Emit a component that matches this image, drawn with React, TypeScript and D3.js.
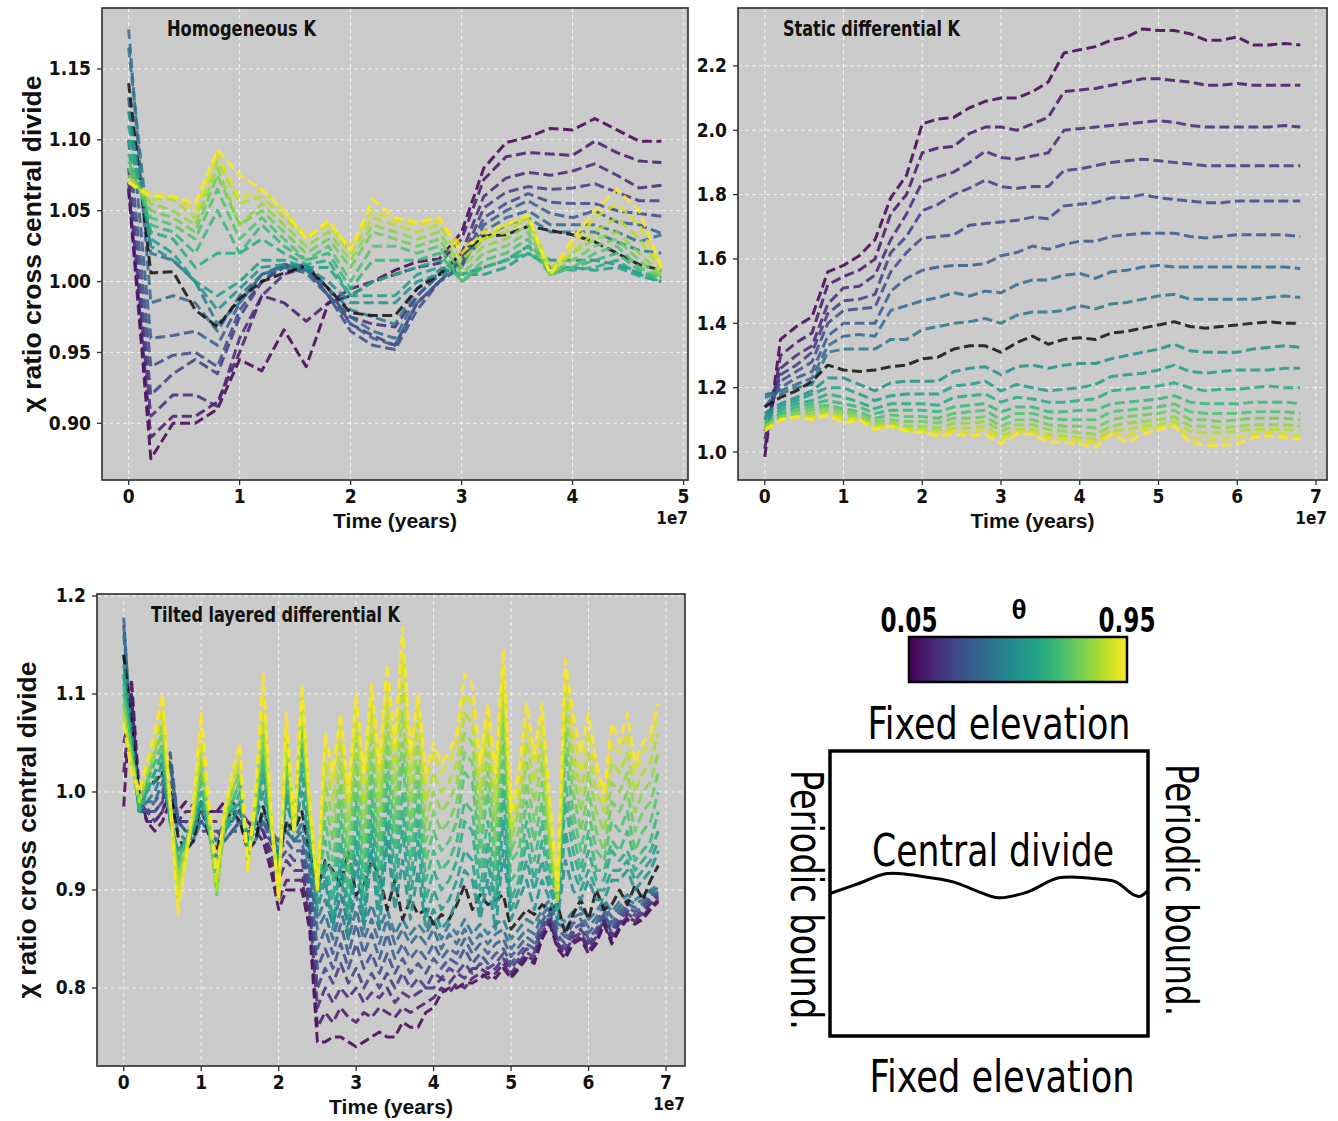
import React from "react";
import * as d3 from "d3";

// ---------------- data ----------------
const THETA = [0.05, 0.1, 0.15, 0.2, 0.25, 0.3, 0.35, 0.4, 0.45, 0.5, 0.55, 0.6, 0.65, 0.7, 0.75, 0.8, 0.85, 0.9, 0.95];
const REFERENCE_THETA = 0.45; // drawn in black

// time in units of 1e7 years
const TIME_HOMOGENEOUS = d3.range(25).map((i) => i * 0.2);
const TIME_STATIC = d3.range(35).map((i) => i * 0.2);
const TIME_TILTED = d3.range(70).map((i) => i * 0.1);

const X_TICKS_HOMOGENEOUS = [0, 1, 2, 3, 4, 5];
const X_TICKS_LONG = [0, 1, 2, 3, 4, 5, 6, 7];
const Y_TICKS_HOMOGENEOUS = [0.9, 0.95, 1.0, 1.05, 1.1, 1.15];
const Y_TICKS_STATIC = [1.0, 1.2, 1.4, 1.6, 1.8, 2.0, 2.2];
const Y_TICKS_TILTED = [0.8, 0.9, 1.0, 1.1, 1.2];

const homogeneousK: number[][] = [
  [1.065,0.875,0.90,0.90,0.91,0.945,0.937,0.966,0.94,0.985,0.99,1.0,1.008,1.014,1.016,1.035,1.08,1.098,1.102,1.108,1.107,1.115,1.107,1.099,1.099],
  [1.066,0.89,0.905,0.905,0.915,0.95,0.99,0.985,0.972,0.985,0.995,1.0,1.005,1.01,1.013,1.03,1.072,1.088,1.091,1.09,1.089,1.099,1.091,1.085,1.084],
  [1.07,0.905,0.92,0.92,0.912,0.96,0.99,1.005,1.01,0.99,0.975,0.97,0.968,0.99,1.005,1.02,1.06,1.073,1.077,1.075,1.078,1.083,1.075,1.066,1.068],
  [1.08,0.92,0.935,0.945,0.935,0.975,1.0,1.01,1.012,0.995,0.97,0.962,0.955,0.985,1.0,1.015,1.052,1.063,1.067,1.065,1.066,1.069,1.063,1.057,1.057],
  [1.10,0.94,0.948,0.95,0.94,0.98,1.0,1.012,1.01,0.99,0.965,0.955,0.952,0.98,1.0,1.012,1.045,1.055,1.062,1.056,1.055,1.055,1.05,1.048,1.046],
  [1.13,0.96,0.962,0.965,0.955,0.985,1.005,1.012,1.008,0.99,0.97,0.96,0.955,0.985,1.0,1.01,1.04,1.05,1.057,1.048,1.045,1.05,1.042,1.04,1.034],
  [1.178,0.985,0.99,0.985,0.965,0.99,1.005,1.01,1.006,0.99,0.975,0.965,0.96,0.99,1.005,1.012,1.035,1.045,1.05,1.04,1.04,1.04,1.035,1.028,1.033],
  [1.165,1.02,1.015,1.0,0.97,0.985,1.005,1.01,1.008,0.995,0.98,0.975,0.97,0.995,1.008,1.015,1.03,1.04,1.045,1.035,1.035,1.035,1.028,1.022,1.02],
  [1.14,1.006,1.007,0.98,0.968,0.988,1.0,1.006,1.011,0.995,0.978,0.976,0.976,0.995,1.005,1.02,1.032,1.033,1.039,1.036,1.033,1.028,1.02,1.012,1.008],
  [1.12,1.025,1.015,1.0,0.98,0.995,1.01,1.012,1.01,1.0,0.985,0.985,0.985,1.0,1.005,1.005,1.01,1.015,1.025,1.015,1.015,1.015,1.012,1.006,1.003],
  [1.11,1.03,1.02,1.0,0.99,1.0,1.015,1.015,1.01,1.01,0.99,0.99,0.99,1.005,1.01,1.005,1.005,1.01,1.02,1.01,1.01,1.008,1.01,1.004,1.0],
  [1.10,1.035,1.03,1.01,1.02,1.02,1.03,1.02,1.012,1.015,0.99,1.0,1.005,1.01,1.015,1.005,1.01,1.015,1.02,1.01,1.008,1.01,1.015,1.005,1.0],
  [1.09,1.04,1.035,1.02,1.05,1.02,1.04,1.025,1.015,1.02,0.995,1.015,1.015,1.015,1.02,1.0,1.01,1.015,1.025,1.005,1.01,1.015,1.02,1.008,1.0],
  [1.085,1.045,1.04,1.03,1.065,1.03,1.045,1.03,1.015,1.025,1.0,1.025,1.025,1.02,1.025,1.0,1.015,1.02,1.03,1.005,1.01,1.02,1.025,1.01,1.002],
  [1.08,1.05,1.045,1.035,1.075,1.04,1.05,1.035,1.02,1.03,1.01,1.035,1.03,1.025,1.03,1.005,1.02,1.025,1.035,1.005,1.015,1.025,1.03,1.015,1.003],
  [1.075,1.055,1.05,1.04,1.08,1.04,1.055,1.04,1.025,1.035,1.015,1.04,1.035,1.03,1.035,1.01,1.025,1.03,1.04,1.005,1.02,1.03,1.035,1.02,1.005],
  [1.07,1.058,1.058,1.045,1.085,1.055,1.06,1.045,1.03,1.04,1.02,1.045,1.04,1.035,1.04,1.015,1.03,1.035,1.045,1.01,1.02,1.035,1.045,1.03,1.008],
  [1.07,1.062,1.06,1.05,1.09,1.058,1.065,1.05,1.032,1.04,1.025,1.05,1.043,1.04,1.043,1.025,1.03,1.04,1.045,1.005,1.025,1.045,1.055,1.04,1.01],
  [1.07,1.06,1.06,1.055,1.093,1.075,1.065,1.05,1.03,1.043,1.022,1.058,1.045,1.042,1.045,1.02,1.035,1.04,1.047,1.005,1.03,1.05,1.065,1.05,1.01],
];

const staticDifferentialK: number[][] = [
  [0.985,1.35,1.39,1.42,1.56,1.58,1.61,1.66,1.79,1.86,2.02,2.035,2.04,2.07,2.09,2.10,2.10,2.12,2.15,2.24,2.25,2.26,2.28,2.29,2.315,2.31,2.31,2.30,2.28,2.28,2.29,2.265,2.265,2.27,2.265],
  [1.01,1.30,1.34,1.37,1.52,1.545,1.565,1.60,1.74,1.80,1.93,1.945,1.95,1.99,2.01,2.01,2.00,2.02,2.04,2.12,2.125,2.13,2.14,2.15,2.16,2.16,2.155,2.15,2.14,2.14,2.145,2.14,2.14,2.14,2.14],
  [1.04,1.26,1.30,1.33,1.46,1.51,1.515,1.55,1.66,1.74,1.84,1.855,1.87,1.90,1.935,1.915,1.91,1.92,1.93,2.00,2.005,2.01,2.015,2.02,2.025,2.03,2.025,2.015,2.01,2.01,2.01,2.01,2.01,2.015,2.01],
  [1.065,1.24,1.27,1.31,1.43,1.47,1.475,1.49,1.62,1.67,1.75,1.77,1.80,1.82,1.845,1.825,1.82,1.825,1.825,1.875,1.88,1.89,1.90,1.905,1.91,1.905,1.90,1.895,1.89,1.89,1.89,1.89,1.89,1.89,1.89],
  [1.10,1.22,1.25,1.28,1.40,1.44,1.445,1.45,1.56,1.62,1.665,1.67,1.675,1.705,1.71,1.715,1.72,1.73,1.725,1.765,1.77,1.775,1.79,1.79,1.80,1.79,1.785,1.78,1.775,1.775,1.78,1.78,1.78,1.78,1.78],
  [1.14,1.20,1.23,1.25,1.36,1.40,1.40,1.40,1.50,1.54,1.565,1.575,1.58,1.58,1.585,1.61,1.62,1.64,1.63,1.645,1.655,1.655,1.67,1.675,1.68,1.68,1.68,1.67,1.665,1.67,1.675,1.675,1.675,1.675,1.67],
  [1.178,1.19,1.21,1.23,1.33,1.36,1.365,1.36,1.44,1.455,1.47,1.48,1.495,1.485,1.50,1.495,1.52,1.535,1.535,1.55,1.555,1.54,1.56,1.565,1.575,1.58,1.575,1.575,1.575,1.575,1.575,1.575,1.575,1.575,1.57],
  [1.17,1.18,1.20,1.21,1.31,1.32,1.32,1.32,1.35,1.35,1.38,1.39,1.40,1.405,1.415,1.40,1.425,1.435,1.435,1.44,1.455,1.445,1.46,1.465,1.475,1.485,1.49,1.475,1.475,1.475,1.475,1.475,1.48,1.485,1.48],
  [1.14,1.17,1.19,1.22,1.27,1.255,1.25,1.255,1.265,1.27,1.29,1.295,1.32,1.33,1.33,1.31,1.34,1.36,1.335,1.35,1.355,1.35,1.37,1.375,1.385,1.395,1.405,1.39,1.385,1.39,1.395,1.40,1.405,1.40,1.40],
  [1.12,1.15,1.17,1.19,1.23,1.23,1.21,1.19,1.215,1.22,1.22,1.22,1.25,1.26,1.265,1.24,1.265,1.27,1.26,1.27,1.275,1.275,1.29,1.30,1.31,1.32,1.335,1.315,1.31,1.31,1.31,1.32,1.325,1.33,1.325],
  [1.11,1.14,1.16,1.18,1.20,1.20,1.18,1.16,1.175,1.18,1.18,1.18,1.205,1.21,1.22,1.19,1.21,1.20,1.19,1.195,1.20,1.21,1.235,1.24,1.245,1.255,1.27,1.25,1.245,1.25,1.255,1.255,1.255,1.26,1.26],
  [1.10,1.13,1.15,1.16,1.18,1.17,1.155,1.135,1.15,1.15,1.15,1.145,1.17,1.175,1.18,1.155,1.17,1.165,1.155,1.155,1.16,1.165,1.19,1.195,1.20,1.205,1.215,1.20,1.19,1.195,1.195,1.20,1.205,1.20,1.20],
  [1.09,1.12,1.14,1.15,1.16,1.15,1.14,1.12,1.13,1.13,1.13,1.125,1.14,1.145,1.15,1.125,1.14,1.14,1.125,1.125,1.13,1.13,1.15,1.155,1.16,1.165,1.175,1.155,1.15,1.15,1.15,1.155,1.155,1.155,1.15],
  [1.085,1.115,1.13,1.14,1.145,1.135,1.125,1.105,1.115,1.11,1.11,1.105,1.12,1.125,1.13,1.10,1.12,1.12,1.105,1.10,1.10,1.10,1.125,1.13,1.135,1.14,1.15,1.125,1.12,1.12,1.12,1.125,1.125,1.125,1.12],
  [1.08,1.11,1.12,1.13,1.14,1.125,1.115,1.095,1.10,1.095,1.095,1.09,1.105,1.105,1.11,1.08,1.10,1.10,1.085,1.08,1.08,1.075,1.10,1.11,1.115,1.12,1.13,1.10,1.10,1.095,1.10,1.105,1.105,1.105,1.10],
  [1.075,1.105,1.115,1.12,1.13,1.115,1.11,1.085,1.09,1.08,1.08,1.075,1.09,1.09,1.095,1.065,1.085,1.085,1.07,1.065,1.06,1.055,1.08,1.09,1.095,1.10,1.11,1.08,1.08,1.075,1.08,1.085,1.085,1.085,1.08],
  [1.07,1.10,1.11,1.11,1.12,1.105,1.10,1.08,1.085,1.07,1.07,1.065,1.075,1.075,1.08,1.05,1.07,1.07,1.055,1.05,1.045,1.04,1.065,1.07,1.08,1.085,1.095,1.065,1.06,1.06,1.065,1.07,1.07,1.07,1.065],
  [1.07,1.10,1.11,1.105,1.118,1.10,1.10,1.075,1.08,1.07,1.065,1.06,1.065,1.06,1.07,1.04,1.06,1.06,1.045,1.04,1.035,1.03,1.06,1.05,1.07,1.075,1.085,1.045,1.04,1.04,1.045,1.055,1.06,1.055,1.05],
  [1.065,1.10,1.11,1.10,1.115,1.09,1.10,1.07,1.08,1.065,1.06,1.05,1.055,1.05,1.055,1.025,1.055,1.055,1.03,1.03,1.025,1.015,1.055,1.03,1.055,1.07,1.08,1.03,1.02,1.02,1.025,1.045,1.05,1.045,1.04],
];

const tiltedLayeredK: number[][] = [
  [0.985,1.115,1.00,0.97,0.96,0.97,0.99,0.98,0.99,0.985,0.98,0.98,0.98,0.99,0.99,0.98,0.97,0.96,0.95,0.92,0.88,0.90,0.90,0.90,0.86,0.745,
   0.745,0.75,0.75,0.745,0.74,0.745,0.75,0.755,0.75,0.75,0.765,0.76,0.76,0.775,0.78,0.795,0.80,0.80,0.805,0.805,0.81,0.815,0.81,0.82,
   0.81,0.82,0.83,0.825,0.85,0.865,0.84,0.83,0.845,0.85,0.835,0.845,0.865,0.845,0.86,0.87,0.865,0.87,0.88,0.888],
  [1.02,1.10,0.99,0.97,0.97,0.98,1.00,0.97,0.98,0.98,0.98,0.98,0.98,0.98,0.98,0.98,0.97,0.97,0.96,0.93,0.89,0.91,0.91,0.91,0.87,0.76,
   0.775,0.765,0.78,0.77,0.765,0.775,0.77,0.78,0.775,0.77,0.78,0.775,0.78,0.785,0.79,0.80,0.795,0.805,0.80,0.81,0.815,0.81,0.815,0.825,
   0.812,0.823,0.833,0.828,0.853,0.868,0.843,0.833,0.848,0.853,0.838,0.848,0.868,0.848,0.863,0.873,0.868,0.873,0.883,0.89],
  [1.05,1.09,0.99,0.98,0.97,0.98,1.01,0.97,0.97,0.97,0.97,0.97,0.97,0.97,0.97,0.97,0.97,0.97,0.96,0.94,0.91,0.93,0.92,0.92,0.88,0.78,
   0.80,0.785,0.80,0.79,0.80,0.785,0.795,0.79,0.80,0.785,0.795,0.79,0.795,0.80,0.80,0.81,0.805,0.815,0.81,0.82,0.82,0.815,0.82,0.83,
   0.815,0.826,0.836,0.832,0.856,0.87,0.846,0.836,0.852,0.856,0.842,0.852,0.87,0.852,0.866,0.876,0.87,0.876,0.886,0.892],
  [1.10,1.08,0.98,0.98,0.98,0.99,1.03,0.97,0.97,0.96,0.96,0.96,0.96,0.96,0.96,0.97,0.96,0.97,0.96,0.95,0.93,0.94,0.93,0.93,0.89,0.80,
   0.82,0.805,0.825,0.805,0.82,0.80,0.815,0.80,0.815,0.80,0.815,0.80,0.81,0.80,0.815,0.81,0.82,0.815,0.825,0.815,0.825,0.82,0.825,0.835,
   0.82,0.83,0.84,0.836,0.86,0.873,0.85,0.84,0.856,0.86,0.846,0.856,0.873,0.856,0.87,0.879,0.874,0.879,0.889,0.894],
  [1.14,1.07,0.98,0.98,0.98,0.99,1.04,0.97,0.96,0.96,0.97,0.96,0.96,0.95,0.96,0.96,0.96,0.96,0.97,0.95,0.94,0.95,0.94,0.94,0.90,0.82,
   0.84,0.82,0.845,0.82,0.845,0.82,0.835,0.815,0.835,0.815,0.83,0.815,0.825,0.815,0.83,0.82,0.83,0.825,0.84,0.825,0.835,0.825,0.835,0.84,
   0.825,0.835,0.845,0.84,0.864,0.876,0.854,0.845,0.86,0.865,0.85,0.86,0.876,0.86,0.874,0.882,0.878,0.882,0.892,0.896],
  [1.17,1.06,0.98,0.98,0.99,1.00,1.03,0.97,0.96,0.96,0.97,0.96,0.96,0.95,0.96,0.97,0.95,0.96,0.97,0.96,0.95,0.96,0.95,0.95,0.91,0.84,
   0.86,0.835,0.865,0.835,0.865,0.835,0.855,0.83,0.855,0.83,0.845,0.83,0.84,0.83,0.845,0.83,0.84,0.835,0.85,0.835,0.845,0.835,0.845,0.85,
   0.832,0.842,0.852,0.846,0.868,0.88,0.86,0.852,0.866,0.87,0.856,0.866,0.88,0.866,0.878,0.886,0.882,0.886,0.895,0.898],
  [1.178,1.05,0.98,0.99,0.99,1.01,1.03,0.97,0.96,0.95,0.97,0.96,0.95,0.96,0.96,0.97,0.95,0.95,0.97,0.96,0.95,0.96,0.95,0.96,0.92,0.86,
   0.875,0.85,0.88,0.85,0.88,0.85,0.87,0.845,0.87,0.845,0.86,0.845,0.855,0.845,0.86,0.84,0.855,0.845,0.86,0.845,0.855,0.845,0.855,0.86,
   0.84,0.85,0.86,0.855,0.874,0.885,0.866,0.86,0.872,0.876,0.862,0.872,0.885,0.872,0.883,0.89,0.886,0.89,0.898,0.902],
  [1.16,1.06,0.98,0.99,1.00,1.02,1.00,0.96,0.95,0.95,0.98,0.96,0.95,0.97,0.97,0.98,0.95,0.95,0.98,0.96,0.94,0.97,0.95,0.97,0.93,0.87,
   0.89,0.865,0.895,0.865,0.895,0.865,0.885,0.86,0.88,0.855,0.87,0.855,0.865,0.855,0.87,0.85,0.865,0.855,0.87,0.855,0.865,0.855,0.865,0.87,
   0.85,0.86,0.87,0.865,0.88,0.89,0.872,0.868,0.878,0.882,0.87,0.878,0.89,0.878,0.888,0.895,0.89,0.895,0.90,0.905],
  [1.14,1.07,0.99,1.01,1.01,1.02,1.00,0.955,0.94,0.95,0.99,0.955,0.94,0.97,0.98,0.97,0.94,0.95,0.985,0.96,0.93,0.97,0.96,0.98,0.94,0.90,
   0.93,0.92,0.905,0.94,0.895,0.905,0.93,0.915,0.88,0.91,0.87,0.89,0.875,0.88,0.865,0.875,0.87,0.885,0.905,0.88,0.895,0.885,0.89,0.895,
   0.86,0.87,0.88,0.875,0.885,0.88,0.885,0.855,0.875,0.89,0.87,0.90,0.88,0.885,0.90,0.885,0.905,0.89,0.91,0.925],
  [1.13,1.06,0.99,1.00,1.01,1.03,0.97,0.94,0.95,0.96,0.99,0.96,0.93,0.96,0.97,0.99,0.95,0.97,1.00,0.96,0.93,0.99,0.96,1.00,0.94,0.88,
   0.91,0.86,0.92,0.85,0.93,0.86,0.94,0.86,0.95,0.88,0.93,0.87,0.92,0.86,0.88,0.86,0.87,0.89,0.92,0.91,0.87,0.91,0.86,0.94,
   0.87,0.89,0.91,0.88,0.91,0.89,0.87,0.93,0.90,0.89,0.91,0.89,0.89,0.91,0.91,0.92,0.90,0.91,0.92,0.94],
  [1.12,1.05,0.98,1.00,1.02,1.03,0.97,0.94,0.95,0.96,0.99,0.96,0.93,0.96,0.98,0.99,0.94,0.97,1.02,0.96,0.93,1.00,0.96,1.02,0.95,0.89,
   0.92,0.87,0.93,0.87,0.95,0.87,0.96,0.88,0.97,0.90,0.96,0.89,0.95,0.87,0.90,0.88,0.89,0.91,0.94,0.93,0.88,0.93,0.88,0.97,
   0.88,0.90,0.93,0.90,0.93,0.90,0.88,0.96,0.92,0.90,0.92,0.90,0.90,0.92,0.92,0.93,0.91,0.92,0.93,0.95],
  [1.12,1.05,0.98,1.00,1.02,1.04,0.97,0.93,0.95,0.97,1.00,0.96,0.92,0.96,0.98,1.00,0.94,0.97,1.03,0.96,0.92,1.01,0.96,1.04,0.96,0.90,
   0.93,0.89,0.95,0.88,0.97,0.89,0.98,0.90,0.99,0.92,0.98,0.91,0.97,0.89,0.92,0.90,0.91,0.93,0.97,0.96,0.90,0.95,0.89,1.00,
   0.89,0.91,0.95,0.91,0.95,0.91,0.88,0.99,0.94,0.91,0.94,0.91,0.91,0.94,0.93,0.94,0.92,0.93,0.94,0.96],
  [1.11,1.04,0.98,1.01,1.03,1.04,0.98,0.93,0.95,0.97,1.01,0.96,0.91,0.96,0.99,1.01,0.94,0.98,1.04,0.96,0.92,1.02,0.96,1.05,0.97,0.91,
   0.95,0.91,0.97,0.90,0.99,0.91,1.00,0.92,1.01,0.94,1.00,0.93,0.99,0.91,0.94,0.92,0.93,0.95,0.99,0.98,0.92,0.97,0.91,1.02,
   0.91,0.92,0.97,0.93,0.97,0.92,0.89,1.01,0.96,0.92,0.96,0.92,0.92,0.95,0.94,0.96,0.93,0.94,0.95,0.98],
  [1.10,1.04,0.99,1.01,1.03,1.05,0.98,0.92,0.95,0.97,1.02,0.97,0.90,0.97,0.99,1.01,0.93,0.98,1.05,0.97,0.91,1.03,0.96,1.06,0.97,0.91,
   0.97,0.93,0.99,0.92,1.01,0.93,1.02,0.94,1.03,0.96,1.03,0.95,1.01,0.93,0.96,0.94,0.95,0.97,1.02,1.01,0.94,1.00,0.93,1.05,
   0.93,0.94,0.99,0.95,0.99,0.93,0.89,1.04,0.98,0.94,0.98,0.94,0.93,0.97,0.96,0.98,0.94,0.96,0.97,1.00],
  [1.09,1.04,0.99,1.01,1.04,1.06,0.98,0.92,0.94,0.97,1.03,0.97,0.895,0.97,1.00,1.02,0.93,0.98,1.06,0.97,0.91,1.04,0.96,1.07,0.98,0.91,
   0.99,0.95,1.01,0.94,1.03,0.95,1.04,0.96,1.05,0.98,1.05,0.97,1.03,0.95,0.98,0.96,0.97,0.99,1.04,1.03,0.96,1.02,0.95,1.07,
   0.94,0.96,1.01,0.97,1.01,0.94,0.89,1.06,1.00,0.96,1.00,0.96,0.94,0.99,0.98,1.00,0.96,0.98,0.99,1.02],
  [1.08,1.03,0.99,1.02,1.04,1.07,0.98,0.91,0.94,0.98,1.04,0.97,0.90,0.97,1.00,1.03,0.93,0.99,1.07,0.97,0.90,1.05,0.96,1.08,0.98,0.91,
   1.01,0.97,1.03,0.96,1.05,0.97,1.06,0.98,1.07,1.00,1.08,0.99,1.05,0.97,1.00,0.98,0.99,1.01,1.06,1.05,0.98,1.04,0.97,1.09,
   0.95,0.98,1.03,0.99,1.03,0.95,0.89,1.08,1.02,0.98,1.02,0.98,0.96,1.01,1.00,1.02,0.98,1.00,1.01,1.04],
  [1.08,1.03,0.99,1.02,1.05,1.08,0.99,0.90,0.94,0.98,1.05,0.98,0.90,0.97,1.01,1.03,0.92,0.99,1.08,0.97,0.90,1.06,0.96,1.09,0.98,0.90,
   1.03,0.99,1.05,0.98,1.07,0.99,1.08,1.00,1.09,1.02,1.11,1.01,1.07,0.99,1.02,1.00,1.01,1.03,1.08,1.07,1.00,1.06,0.99,1.11,
   0.96,0.99,1.05,1.01,1.05,0.96,0.89,1.10,1.04,1.00,1.04,1.00,0.98,1.03,1.02,1.04,1.00,1.02,1.03,1.06],
  [1.07,1.03,1.00,1.03,1.05,1.09,0.99,0.89,0.93,0.98,1.06,0.98,0.91,0.98,1.01,1.04,0.92,0.99,1.10,0.98,0.89,1.07,0.96,1.10,0.99,0.90,
   1.05,1.01,1.07,0.99,1.09,1.01,1.10,1.02,1.11,1.04,1.14,1.03,1.09,1.01,1.04,1.02,1.03,1.05,1.10,1.09,1.02,1.08,1.01,1.13,
   0.97,1.01,1.07,1.03,1.07,0.98,0.90,1.12,1.06,1.02,1.06,1.02,0.99,1.05,1.04,1.06,1.02,1.04,1.05,1.08],
  [1.07,1.02,1.00,1.03,1.06,1.10,0.99,0.875,0.93,0.99,1.08,0.99,0.92,0.98,1.02,1.05,0.92,1.00,1.12,0.98,0.89,1.08,0.96,1.11,0.99,0.90,
   1.06,1.02,1.08,1.00,1.10,1.02,1.11,1.03,1.13,1.05,1.168,1.04,1.10,1.02,1.05,1.03,1.04,1.06,1.12,1.11,1.03,1.09,1.02,1.145,
   0.98,1.02,1.09,1.04,1.09,0.99,0.90,1.135,1.08,1.04,1.08,1.03,1.00,1.07,1.05,1.08,1.03,1.05,1.06,1.09],
];

// schematic profile of the central divide (fraction of box width, fraction of box height)
const DIVIDE_PROFILE: [number, number][] = [
  [0, 0.50], [0.09, 0.465], [0.18, 0.43], [0.29, 0.44], [0.39, 0.46], [0.47, 0.495], [0.53, 0.515],
  [0.62, 0.495], [0.72, 0.445], [0.85, 0.45], [0.9, 0.46], [0.955, 0.505], [0.975, 0.51], [1.0, 0.49],
];

// ---------------- styling ----------------
const COND = "'Liberation Sans Narrow','DejaVu Sans Condensed','Arial Narrow',sans-serif";
const SANS = "'Liberation Sans',Arial,Helvetica,sans-serif";
const BG = "#cbcbcb";
const SPINE = "#2b2b2b";

function seriesColor(theta: number) {
  if (Math.abs(theta - REFERENCE_THETA) < 1e-9) return "#111111";
  return d3.interpolateViridis((theta - THETA[0]) / (THETA[THETA.length - 1] - THETA[0]));
}

type Frame = { l: number; r: number; t: number; b: number };

function Panel(props: {
  id: string;
  frame: Frame;
  xDomain: [number, number];
  yDomain: [number, number];
  xTicks: number[];
  yTicks: number[];
  yFmt: (v: number) => string;
  times: number[];
  series: number[][];
  title: string;
  titleX: number;
  titleW: number;
  yLabel: boolean;
}) {
  const { id, frame, xDomain, yDomain, xTicks, yTicks, yFmt, times, series, title, titleX, titleW, yLabel } = props;
  const x = d3.scaleLinear().domain(xDomain).range([frame.l, frame.r]);
  const y = d3.scaleLinear().domain(yDomain).range([frame.b, frame.t]);
  const line = d3
    .line<number>()
    .defined((_d, i) => i < times.length)
    .x((_d, i) => x(times[i]))
    .y((d) => y(d));
  const cx = (frame.l + frame.r) / 2;
  const cy = (frame.t + frame.b) / 2;
  return (
    <g>
      <defs>
        <clipPath id={`clip-${id}`}>
          <rect x={frame.l} y={frame.t} width={frame.r - frame.l} height={frame.b - frame.t} />
        </clipPath>
      </defs>
      <rect x={frame.l} y={frame.t} width={frame.r - frame.l} height={frame.b - frame.t} fill={BG} />
      {xTicks.map((t) => (
        <line key={`gx${t}`} x1={x(t)} x2={x(t)} y1={frame.t} y2={frame.b} stroke="#ffffff" strokeWidth={0.9} strokeDasharray="4,3" opacity={0.85} />
      ))}
      {yTicks.map((t) => (
        <line key={`gy${t}`} x1={frame.l} x2={frame.r} y1={y(t)} y2={y(t)} stroke="#ffffff" strokeWidth={0.9} strokeDasharray="4,3" opacity={0.85} />
      ))}
      <g clipPath={`url(#clip-${id})`}>
        {series.map((s, i) => (
          <path
            key={i}
            d={line(s) || ""}
            fill="none"
            stroke={seriesColor(THETA[i])}
            strokeWidth={3}
            strokeDasharray="10,4.5"
            strokeOpacity={0.85}
            strokeLinejoin="round"
          />
        ))}
      </g>
      <rect x={frame.l} y={frame.t} width={frame.r - frame.l} height={frame.b - frame.t} fill="none" stroke={SPINE} strokeWidth={1.6} />
      {xTicks.map((t) => (
        <g key={`tx${t}`}>
          <line x1={x(t)} x2={x(t)} y1={frame.b} y2={frame.b + 5} stroke={SPINE} strokeWidth={1.3} />
          <text x={x(t)} y={frame.b + 23} textAnchor="middle" fontFamily={COND} fontWeight="bold" fontSize={19} fill="#111">
            {String(t)}
          </text>
        </g>
      ))}
      {yTicks.map((t) => (
        <g key={`ty${t}`}>
          <line x1={frame.l - 5} x2={frame.l} y1={y(t)} y2={y(t)} stroke={SPINE} strokeWidth={1.3} />
          <text x={frame.l - 11} y={y(t) + 6.5} textAnchor="end" fontFamily={COND} fontWeight="bold" fontSize={19} fill="#111">
            {yFmt(t)}
          </text>
        </g>
      ))}
      <text x={titleX} y={frame.t + 28} fontFamily={COND} fontWeight="bold" fontSize={22} fill="#111" textLength={titleW} lengthAdjust="spacingAndGlyphs">
        {title}
      </text>
      <text x={cx} y={frame.b + 48} textAnchor="middle" fontFamily={SANS} fontWeight="bold" fontSize={20} fill="#111" textLength={124} lengthAdjust="spacingAndGlyphs">
        Time (years)
      </text>
      <text x={frame.r} y={frame.b + 44} textAnchor="end" fontFamily={COND} fontWeight="bold" fontSize={17} fill="#111">
        1e7
      </text>
      {yLabel && (
        <text
          transform={`translate(${frame.l - 70},${cy}) rotate(-90)`}
          textAnchor="middle"
          dominantBaseline="central"
          fontFamily={SANS}
          fontWeight="bold"
          fontSize={26.5}
          fill="#111"
          textLength={337}
          lengthAdjust="spacingAndGlyphs"
        >
          χ ratio cross central divide
        </text>
      )}
    </g>
  );
}

function Legend() {
  const bar = { x: 909, y: 637, w: 218, h: 45 };
  const c = d3.scaleLinear().domain([THETA[0], THETA[THETA.length - 1]]).range([bar.x, bar.x + bar.w]);
  const stops = d3.range(0, 1.0001, 0.1);
  return (
    <g>
      <defs>
        <linearGradient id="viridisGrad" x1="0" x2="1" y1="0" y2="0">
          {stops.map((s) => (
            <stop key={s} offset={`${s * 100}%`} stopColor={d3.interpolateViridis(s)} />
          ))}
        </linearGradient>
      </defs>
      <rect x={bar.x} y={bar.y} width={bar.w} height={bar.h} fill="url(#viridisGrad)" stroke="#000" strokeWidth={2.5} />
      <text x={c(THETA[0])} y={632} textAnchor="middle" fontFamily={COND} fontWeight="bold" fontSize={33} fill="#000" textLength={57} lengthAdjust="spacingAndGlyphs">
        {THETA[0].toFixed(2)}
      </text>
      <text x={c(THETA[THETA.length - 1])} y={632} textAnchor="middle" fontFamily={COND} fontWeight="bold" fontSize={33} fill="#000" textLength={57} lengthAdjust="spacingAndGlyphs">
        {THETA[THETA.length - 1].toFixed(2)}
      </text>
      <text x={(bar.x + bar.x + bar.w) / 2 + 1} y={619} textAnchor="middle" fontFamily={SANS} fontWeight="bold" fontSize={28} fill="#000">
        θ
      </text>
    </g>
  );
}

function Diagram() {
  const box = { x: 830, y: 751, w: 318, h: 285 };
  const px = d3.scaleLinear().domain([0, 1]).range([box.x, box.x + box.w]);
  const py = d3.scaleLinear().domain([0, 1]).range([box.y, box.y + box.h]);
  const divide = d3
    .line<[number, number]>()
    .x((d) => px(d[0]))
    .y((d) => py(d[1]))
    .curve(d3.curveCatmullRom.alpha(0.5));
  return (
    <g>
      <text x={999} y={739} textAnchor="middle" fontFamily={COND} fontSize={44} fill="#000" textLength={263} lengthAdjust="spacingAndGlyphs">
        Fixed elevation
      </text>
      <rect x={box.x} y={box.y} width={box.w} height={box.h} fill="none" stroke="#000" strokeWidth={3.5} />
      <path d={divide(DIVIDE_PROFILE) || ""} fill="none" stroke="#000" strokeWidth={3} />
      <text x={993} y={866} textAnchor="middle" fontFamily={COND} fontSize={44} fill="#000" textLength={242} lengthAdjust="spacingAndGlyphs">
        Central divide
      </text>
      <text x={1002} y={1092} textAnchor="middle" fontFamily={COND} fontSize={44} fill="#000" textLength={265} lengthAdjust="spacingAndGlyphs">
        Fixed elevation
      </text>
      <text
        transform="translate(806,900) rotate(90)"
        textAnchor="middle"
        dominantBaseline="central"
        fontFamily={COND}
        fontSize={44}
        fill="#000"
        textLength={260}
        lengthAdjust="spacingAndGlyphs"
      >
        Periodic bound.
      </text>
      <text
        transform="translate(1181,890) rotate(90)"
        textAnchor="middle"
        dominantBaseline="central"
        fontFamily={COND}
        fontSize={44}
        fill="#000"
        textLength={252}
        lengthAdjust="spacingAndGlyphs"
      >
        Periodic bound.
      </text>
    </g>
  );
}

export default function App() {
  const fmt2 = d3.format(".2f");
  const fmt1 = d3.format(".1f");
  return (
    <svg
      width={1338}
      height={1121}
      viewBox="0 0 1338 1121"
      style={{ position: "absolute", left: 0, top: 0, background: "#ffffff" }}
    >
      <rect x={0} y={0} width={1338} height={1121} fill="#ffffff" />
      <Panel
        id="homo"
        frame={{ l: 102, r: 688, t: 8, b: 480 }}
        xDomain={[-0.24, 5.04]}
        yDomain={[0.86, 1.193]}
        xTicks={X_TICKS_HOMOGENEOUS}
        yTicks={Y_TICKS_HOMOGENEOUS}
        yFmt={fmt2}
        times={TIME_HOMOGENEOUS}
        series={homogeneousK}
        title="Homogeneous K"
        titleX={167}
        titleW={149}
        yLabel={true}
      />
      <Panel
        id="static"
        frame={{ l: 738, r: 1327, t: 8, b: 480 }}
        xDomain={[-0.34, 7.14]}
        yDomain={[0.913, 2.38]}
        xTicks={X_TICKS_LONG}
        yTicks={Y_TICKS_STATIC}
        yFmt={fmt1}
        times={TIME_STATIC}
        series={staticDifferentialK}
        title="Static differential K"
        titleX={783}
        titleW={177}
        yLabel={false}
      />
      <Panel
        id="tilted"
        frame={{ l: 97, r: 685, t: 594, b: 1066 }}
        xDomain={[-0.345, 7.245]}
        yDomain={[0.7204, 1.202]}
        xTicks={X_TICKS_LONG}
        yTicks={Y_TICKS_TILTED}
        yFmt={fmt1}
        times={TIME_TILTED}
        series={tiltedLayeredK}
        title="Tilted layered differential K"
        titleX={151}
        titleW={249}
        yLabel={true}
      />
      <Legend />
      <Diagram />
    </svg>
  );
}
